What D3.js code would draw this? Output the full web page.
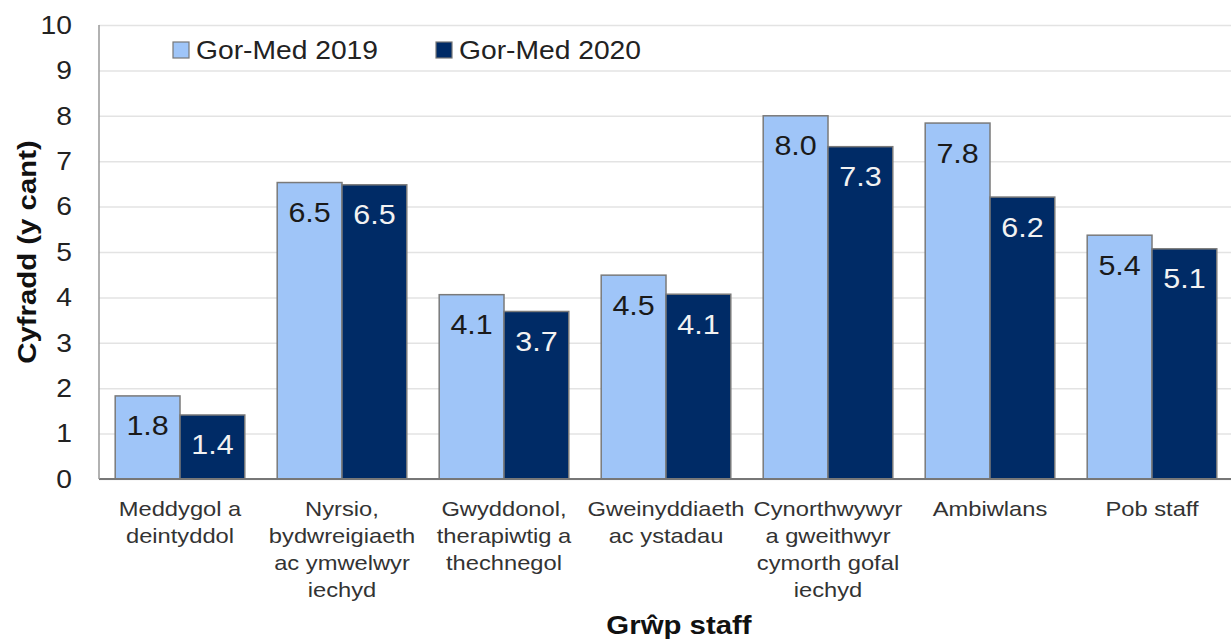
<!DOCTYPE html>
<html>
<head>
<meta charset="utf-8">
<script src="https://cdn.jsdelivr.net/npm/d3@7"></script>
<style>
  body { margin: 0; background: #fff; }
  text { font-family: "Liberation Sans", Arial, sans-serif; }
</style>
</head>
<body>
<script>
// chart data
const categories = [
  ["Meddygol a", "deintyddol"],
  ["Nyrsio,", "bydwreigiaeth", "ac ymwelwyr", "iechyd"],
  ["Gwyddonol,", "therapiwtig a", "thechnegol"],
  ["Gweinyddiaeth", "ac ystadau"],
  ["Cynorthwywyr", "a gweithwyr", "cymorth gofal", "iechyd"],
  ["Ambiwlans"],
  ["Pob staff"]
];
const seriesNames = ["Gor-Med 2019", "Gor-Med 2020"];
const values2019 = [1.83, 6.53, 4.06, 4.49, 8.0, 7.84, 5.37];
const values2020 = [1.41, 6.48, 3.69, 4.07, 7.32, 6.21, 5.07];
const yTicks = [0, 1, 2, 3, 4, 5, 6, 7, 8, 9, 10];
const yTitle = "Cyfradd (y cant)";
const xTitle = "Grŵp staff";

const colors = ["#9fc5f8", "#002b66"];
const labelColors = ["#1a1a1a", "#f2f2f2"];
const SX = 1.13; // glyphs in the source are a little wider than Arial

const W = 1231, H = 640;
const margin = { top: 25, right: -2, bottom: 161, left: 99 };
const width = W - margin.left - margin.right,
      height = H - margin.top - margin.bottom;

const svg = d3.select("body").append("svg")
    .attr("width", W)
    .attr("height", H);

const g = svg.append("g")
    .attr("transform", `translate(${margin.left},${margin.top})`);

const x0 = d3.scaleBand()
    .domain(d3.range(categories.length))
    .range([0, width])
    .paddingInner(0.2)
    .paddingOuter(0.1);
const x1 = d3.scaleBand().domain([0, 1]).range([0, x0.bandwidth()]);
const y = d3.scaleLinear().domain([0, 10]).range([height, 0]);

const wide = (sel, px, py, rot) =>
  sel.attr("transform", `translate(${px},${py})${rot ? ` rotate(${rot})` : ""} scale(${SX},1)`);

// gridlines
g.append("g")
  .call(d3.axisLeft(y).tickValues(yTicks).tickSize(-width).tickFormat(""))
  .call(a => a.select(".domain").remove())
  .call(a => a.selectAll("line").attr("stroke", "#e3e3e3").attr("stroke-width", 1.5));

// y tick labels
g.selectAll(".ytick").data(yTicks).join("text")
  .attr("class", "ytick")
  .attr("text-anchor", "end")
  .attr("dy", "0.35em")
  .attr("font-size", 25)
  .attr("fill", "#222")
  .each(function(d) { wide(d3.select(this), -27, y(d)); })
  .text(d => d);

// bars
const series = [values2019, values2020];
series.forEach((vals, s) => {
  g.selectAll(".bar" + s).data(vals).join("rect")
    .attr("class", "bar" + s)
    .attr("x", (d, i) => x0(i) + x1(s))
    .attr("y", d => y(d))
    .attr("width", x1.bandwidth())
    .attr("height", d => y(0) - y(d))
    .attr("fill", colors[s])
    .attr("stroke", "#7a7a7a")
    .attr("stroke-width", 1.5);

  g.selectAll(".lab" + s).data(vals).join("text")
    .attr("class", "lab" + s)
    .attr("text-anchor", "middle")
    .attr("dy", "0.35em")
    .attr("font-size", 27)
    .attr("fill", labelColors[s])
    .each(function(d, i) { wide(d3.select(this), x0(i) + x1(s) + x1.bandwidth() / 2, y(d) + 30); })
    .text(d => d3.format(".1f")(d));
});

// axes lines
g.append("line")
  .attr("x1", 0).attr("x2", width).attr("y1", y(0)).attr("y2", y(0))
  .attr("stroke", "#777").attr("stroke-width", 2);
g.append("line")
  .attr("x1", 0).attr("x2", 0).attr("y1", y(10)).attr("y2", y(0))
  .attr("stroke", "#999").attr("stroke-width", 1.5);

// category labels
const cat = g.selectAll(".cat").data(categories).join("g")
  .attr("class", "cat")
  .attr("transform", (d, i) => `translate(${x0(i) + x0.bandwidth() / 2},${height + 37})`);
cat.selectAll("text").data(d => d).join("text")
  .attr("text-anchor", "middle")
  .attr("font-size", 21)
  .attr("fill", "#333")
  .each(function(d, j) { wide(d3.select(this), 0, j * 27); })
  .text(d => d);

// axis titles
wide(svg.append("text"), 679, 634)
  .attr("text-anchor", "middle")
  .attr("font-size", 26)
  .attr("font-weight", "bold")
  .attr("fill", "#111")
  .text(xTitle);

wide(svg.append("text"), 36, margin.top + height / 2, -90)
  .attr("text-anchor", "middle")
  .attr("font-size", 26)
  .attr("font-weight", "bold")
  .attr("fill", "#111")
  .text(yTitle);

// legend
const legendX = [173, 436];
seriesNames.forEach((name, s) => {
  svg.append("rect")
    .attr("x", legendX[s]).attr("y", 42)
    .attr("width", 16).attr("height", 16)
    .attr("fill", colors[s])
    .attr("stroke", "#777").attr("stroke-width", 1.2);
  wide(svg.append("text"), legendX[s] + 23, 59)
    .attr("font-size", 25)
    .attr("fill", "#222")
    .text(name);
});
</script>
</body>
</html>
